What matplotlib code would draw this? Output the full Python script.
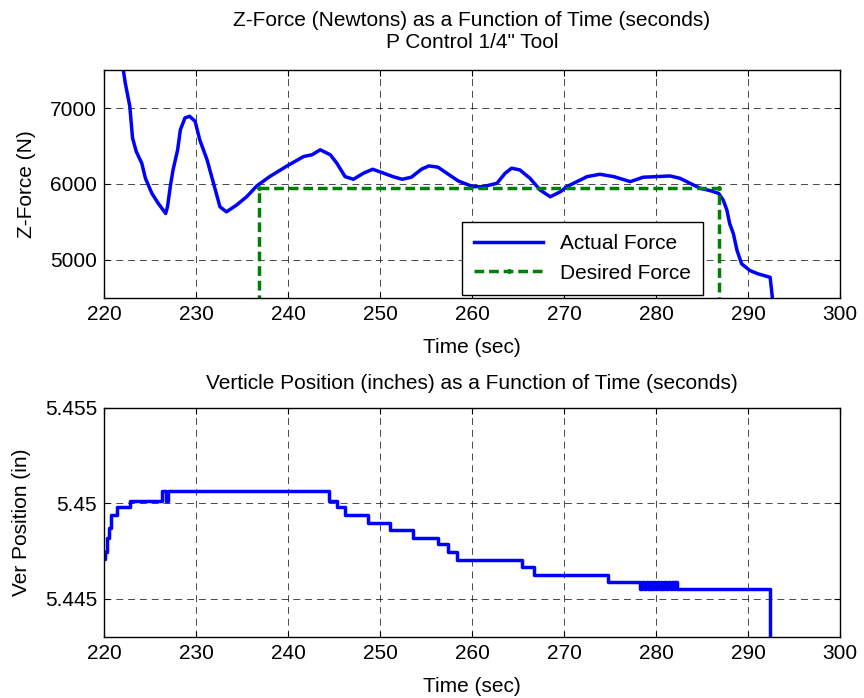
import matplotlib
matplotlib.use("Agg")
import matplotlib.pyplot as plt

plt.rcParams["font.family"] = ["Liberation Sans", "DejaVu Sans"]
plt.rcParams["font.size"] = 15
plt.rcParams["lines.scale_dashes"] = False

# Z-force (N) vs time (s)
force_t = [221.9, 222.1, 222.3, 222.8, 223.1, 223.5, 224.1, 224.5, 225.2, 225.9,
           226.7, 226.9, 227.2, 227.5, 228.0, 228.3, 228.8, 229.3, 229.9, 230.4,
           231.2, 231.9, 232.6, 233.3, 234.4, 235.5, 236.6, 238.0, 239.9, 241.7,
           242.6, 243.5, 244.6, 245.3, 246.2, 247.1, 248.2, 249.2, 250.4, 251.4,
           252.4, 253.4, 254.5, 255.3, 256.3, 257.4, 258.5, 260.1, 261.2, 262.7,
           263.6, 264.3, 265.2, 266.3, 267.4, 268.5, 269.6, 270.3, 271.4, 272.5,
           273.9, 275.4, 277.2, 278.6, 280.1, 281.5, 282.6, 283.7, 284.8, 285.9,
           286.8, 287.3, 287.7, 288.0, 288.4, 288.8, 289.3, 290.2, 291.1, 292.4,
           292.6, 292.7]
force_v = [7700, 7500, 7334, 7024, 6605, 6428, 6274, 6075, 5877, 5744,
           5612, 5700, 5965, 6185, 6450, 6715, 6870, 6891, 6825, 6583,
           6318, 6009, 5700, 5634, 5722, 5832, 5974, 6097, 6238, 6362,
           6384, 6450, 6384, 6274, 6097, 6062, 6142, 6194, 6142, 6097,
           6062, 6089, 6194, 6238, 6221, 6130, 6040, 5965, 5965, 6009,
           6142, 6208, 6185, 6075, 5920, 5832, 5898, 5965, 6031, 6097,
           6128, 6097, 6031, 6089, 6097, 6106, 6075, 6009, 5943, 5912,
           5877, 5788, 5656, 5479, 5347, 5126, 4950, 4861, 4817, 4772,
           4552, 4400]

desired_t = [236.8, 236.8, 286.8, 286.8]
desired_v = [0, 5950, 5950, 0]

# vertical position (in) vs time (s), stepwise
pos_t = [220.0, 220.1, 220.3, 220.5, 220.8, 221.4, 222.8, 226.3, 226.7, 226.9,
         244.4, 245.3, 246.2, 248.7, 251.1, 253.6, 256.3, 257.4, 258.4, 265.4,
         266.7, 274.8,
         278.3, 278.5, 278.7, 278.9, 279.1, 279.3, 279.5, 279.7, 279.9, 280.1,
         280.3, 280.5, 280.7, 280.9, 281.1, 281.3, 281.5, 281.7, 281.9, 282.1,
         282.3,
         282.6, 292.4, 292.5]
pos_v = [5.4471, 5.44747, 5.44817, 5.4487, 5.4494, 5.4498, 5.45014, 5.45063, 5.45014, 5.45063,
         5.45014, 5.4498, 5.4494, 5.44896, 5.44861, 5.44817, 5.44786, 5.44747, 5.44704, 5.44668,
         5.44625, 5.4459,
         5.44551, 5.4459, 5.44551, 5.4459, 5.44551, 5.4459, 5.44551, 5.4459, 5.44551, 5.4459,
         5.44551, 5.4459, 5.44551, 5.4459, 5.44551, 5.4459, 5.44551, 5.4459, 5.44551, 5.4459,
         5.44551,
         5.44551, 5.4420, 5.4420]

x_ticks = [220, 230, 240, 250, 260, 270, 280, 290, 300]
force_ticks = [5000, 6000, 7000]
pos_ticks = [5.445, 5.45, 5.455]
pos_tick_labels = ["5.445", "5.45", "5.455"]

BLUE = (0, 0, 1)
GREEN = (0, 0.5, 0)
GRID_DASH = (0, (5, 3.5))


def style_axes(ax):
    ax.grid(True, color="black", linestyle=GRID_DASH, linewidth=0.5)
    ax.tick_params(direction="in", top=True, right=True, length=4,
                   width=0.8, pad=5, labelsize=15)
    for sp in ax.spines.values():
        sp.set_linewidth(1.0)
        sp.set_color("black")


fig = plt.figure(figsize=(8.64, 6.98), dpi=100)
ax1 = fig.add_axes([0.1204, 0.5731, 0.8519, 0.3266])
ax2 = fig.add_axes([0.1204, 0.0874, 0.8519, 0.3281])

ax1.plot(force_t, force_v, color=BLUE, linewidth=2.5, label="Actual Force")
ax1.plot(desired_t, desired_v, color=GREEN, linewidth=2.5, linestyle=(0, (7, 3.5)),
         marker=".", markersize=5, label="Desired Force")
ax1.set_xlim(220, 300)
ax1.set_ylim(4500, 7500)
ax1.set_xticks(x_ticks)
ax1.set_yticks(force_ticks)
ax1.set_xlabel("Time (sec)", labelpad=10)
ax1.set_ylabel("Z-Force (N)", labelpad=10)
ax1.set_title("Z-Force (Newtons) as a Function of Time (seconds)\nP Control 1/4\" Tool",
              fontsize=15, linespacing=1.2, pad=16)
style_axes(ax1)
leg = ax1.legend(loc="lower left", bbox_to_anchor=(0.486, 0.013), fontsize=15,
                 handlelength=3.3, fancybox=False, framealpha=1, edgecolor="black",
                 borderaxespad=0, numpoints=1, borderpad=0.6, labelspacing=0.5)
leg.get_frame().set_linewidth(1.0)

ax2.plot(pos_t, pos_v, color=BLUE, linewidth=2.5, drawstyle="steps-post")
ax2.set_xlim(220, 300)
ax2.set_ylim(5.443, 5.455)
ax2.set_xticks(x_ticks)
ax2.set_yticks(pos_ticks)
ax2.set_yticklabels(pos_tick_labels)
ax2.set_xlabel("Time (sec)", labelpad=10)
ax2.set_ylabel("Ver Position (in)", labelpad=10)
ax2.set_title("Verticle Position (inches) as a Function of Time (seconds)",
              fontsize=15, pad=14)
style_axes(ax2)

fig.savefig("out.png", dpi=100)
